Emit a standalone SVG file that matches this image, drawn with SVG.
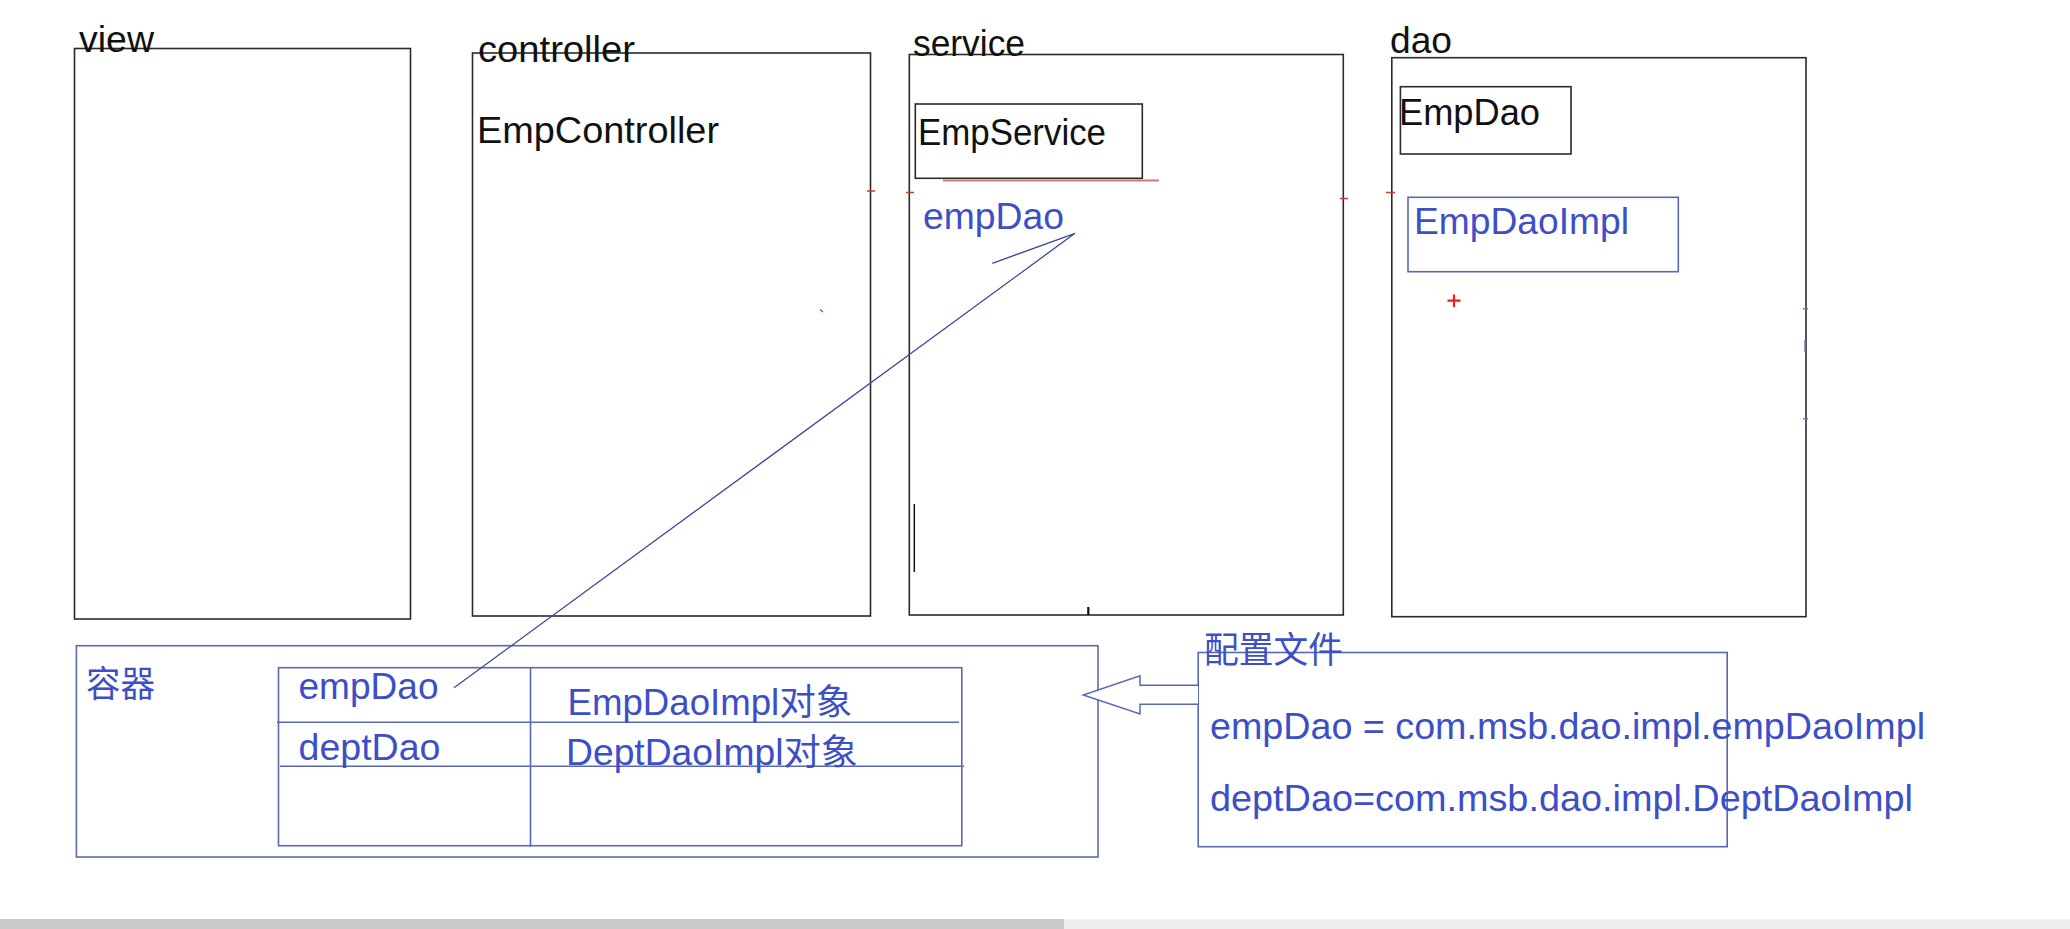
<svg xmlns="http://www.w3.org/2000/svg" width="2070" height="929" viewBox="0 0 2070 929">
<style>
text{font-family:"Liberation Sans","Noto Sans CJK SC",sans-serif;font-size:36px}
.k{fill:#111}
.b{fill:#3d4fc6}
.box{fill:none;stroke:#2a2a2a;stroke-width:1.6}
.bbox{fill:none;stroke:#5a68b4;stroke-width:1.6}
.red{stroke:#d23a2a;stroke-width:1.3;fill:none}
.ln{stroke:#3b4a96;stroke-width:1.3;fill:none}
</style>
<rect width="2070" height="929" fill="#ffffff"/>

<g id="view">
<rect class="box" x="74.5" y="48.5" width="336" height="570.5"/>
<text class="k" x="79" y="52" font-size="37" textLength="75" lengthAdjust="spacingAndGlyphs">view</text>
</g>

<g id="controller">
<rect class="box" x="472.5" y="53" width="398" height="563"/>
<text class="k" x="478" y="61.5" font-size="37" textLength="157" lengthAdjust="spacingAndGlyphs">controller</text>
<text class="k" x="477" y="143" font-size="34" textLength="242" lengthAdjust="spacingAndGlyphs">EmpController</text>
</g>

<g id="service">
<rect class="box" x="909.3" y="54.5" width="434" height="560.5"/>
<text class="k" x="913" y="56" font-size="37" textLength="112" lengthAdjust="spacingAndGlyphs">service</text>
<rect class="box" x="915.3" y="104" width="227" height="74.3"/>
<text class="k" x="918" y="145" font-size="36" textLength="188" lengthAdjust="spacingAndGlyphs">EmpService</text>
<line x1="943" y1="180.5" x2="1159" y2="180.5" stroke="#cc7a78" stroke-width="2.2"/>
<text class="b" x="923" y="229" textLength="141" lengthAdjust="spacingAndGlyphs">empDao</text>
<line x1="914.3" y1="504" x2="914.3" y2="572" stroke="#111" stroke-width="1.5"/>
<line x1="1088.3" y1="607" x2="1088.3" y2="615" stroke="#111" stroke-width="2.2"/>
</g>

<g id="dao">
<rect class="box" x="1391.8" y="57.7" width="414.2" height="559"/>
<text class="k" x="1390" y="53" font-size="37" textLength="62" lengthAdjust="spacingAndGlyphs">dao</text>
<rect class="box" x="1400.4" y="86.7" width="170.6" height="67.3"/>
<text class="k" x="1399" y="125" textLength="141" lengthAdjust="spacingAndGlyphs">EmpDao</text>
<rect class="bbox" x="1408" y="197.3" width="270.3" height="74.4"/>
<text class="b" x="1414" y="234" textLength="215" lengthAdjust="spacingAndGlyphs">EmpDaoImpl</text>
<path d="M1447.5,300.7 H1460.5 M1454,294.5 V307" stroke="#ee1c1c" stroke-width="2.2"/>
<path d="M1803,308.7 H1808 M1805,340 V352 M1803,418.7 H1808" stroke="#6a78b8" stroke-width="1.5"/>
</g>

<g id="marks">
<path class="red" d="M867,191 H875 M906,192.5 H914 M1340,198.5 H1348 M1386,192.5 H1395 M820,309.5 L823,312"/>
</g>

<g id="container">
<rect class="bbox" x="76.4" y="645.7" width="1021.6" height="211.3"/>
<text class="b" x="86" y="697" font-size="34" textLength="69" lengthAdjust="spacingAndGlyphs">容器</text>
<rect class="bbox" x="278.5" y="667.7" width="683.3" height="178"/>
<line class="bbox" x1="530.5" y1="667.7" x2="530.5" y2="846.7"/>
<line class="bbox" x1="277" y1="722.3" x2="959" y2="722.3"/>
<line class="bbox" x1="280" y1="766.3" x2="964" y2="766.3"/>
<text class="b" x="298.5" y="699" textLength="140" lengthAdjust="spacingAndGlyphs">empDao</text>
<text class="b" x="298.5" y="760" textLength="142" lengthAdjust="spacingAndGlyphs">deptDao</text>
<text class="b" x="567.5" y="715" textLength="285" lengthAdjust="spacingAndGlyphs">EmpDaoImpl对象</text>
<text class="b" x="566" y="765" textLength="292" lengthAdjust="spacingAndGlyphs">DeptDaoImpl对象</text>
</g>

<g id="config">
<rect class="bbox" x="1198.2" y="652.5" width="529" height="194.2"/>
<text class="b" x="1204" y="663" font-size="34" textLength="139" lengthAdjust="spacingAndGlyphs">配置文件</text>
<text class="b" x="1210" y="739" textLength="715" lengthAdjust="spacingAndGlyphs">empDao = com.msb.dao.impl.empDaoImpl</text>
<text class="b" x="1210" y="811" textLength="703" lengthAdjust="spacingAndGlyphs">deptDao=com.msb.dao.impl.DeptDaoImpl</text>
</g>

<g id="connectors">
<polyline class="ln" points="992.3,263.3 1075,233.3 454,687.7"/>
<path d="M1198,685.3 L1140,685.3 L1140,675.7 L1083.3,695 L1140,714 L1140,704.3 L1198,704.3" fill="#ffffff" stroke="#5a68b4" stroke-width="1.5"/>
</g>

<g id="scrollbar">
<rect x="0" y="919" width="2070" height="10" fill="#efefef"/>
<rect x="0" y="919" width="1064" height="10" fill="#cbcbcb"/>
</g>
</svg>
